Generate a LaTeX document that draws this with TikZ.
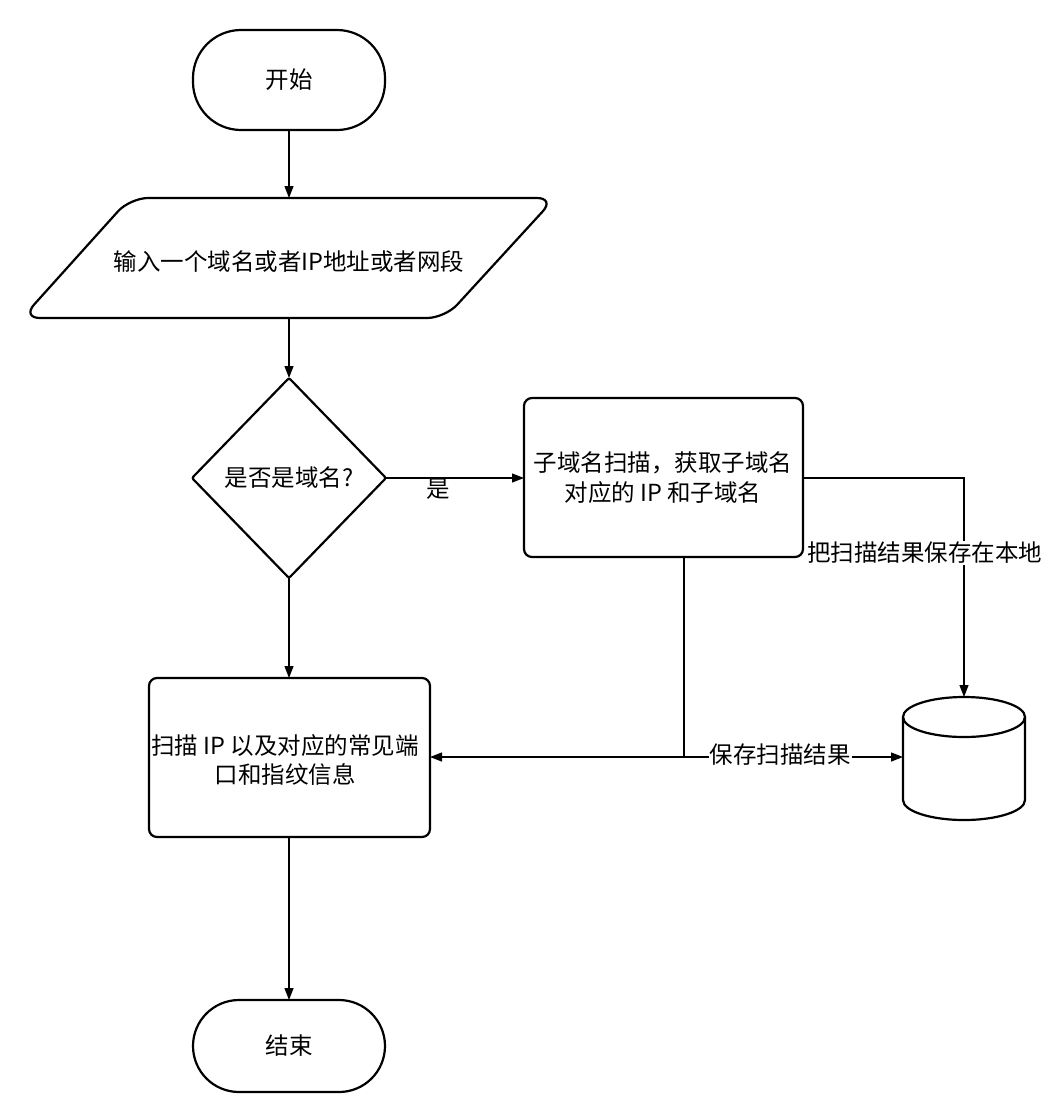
\documentclass[tikz,border=0pt]{standalone}
\usepackage{fontspec}
\setmainfont{Noto Sans CJK SC}
\usetikzlibrary{shapes.geometric,arrows.meta}
\begin{document}
\begin{tikzpicture}[x=1pt,y=-1pt,
  every node/.style={font=\fontsize{23.5}{30}\selectfont},
  box/.style={draw,line width=2.2pt,rounded corners=8pt},
  arr/.style={line width=1.3pt,-{Triangle[length=12pt,width=9pt]}},
  ln/.style={line width=1.3pt}]
\useasboundingbox (0,0) rectangle (1061,1120);
\draw[box,rounded corners=48pt] (193,30) rectangle (385,130);
\node (s) at (289,80) {开始};
\coordinate (sb) at (289,130);
\draw[box,rounded corners=18pt] (130,198) -- (555,198) -- (445,318) -- (22,318) -- cycle;
\node (p) at (289,262) {输入一个域名或者IP地址或者网段};
\coordinate (pt) at (289,198); \coordinate (pb) at (289,318);
\draw[box,rounded corners=2pt] (289,378) -- (386,478) -- (289,578) -- (192,478) -- cycle;
\node (d) at (289,478) {是否是域名?};
\coordinate (dt) at (289,378); \coordinate (db) at (289,578); \coordinate (dr) at (386,478);
\draw[box] (524,398) rectangle (803,557);
\node[align=center] (b1) at (663,478) {子域名扫描，获取子域名\\对应的 IP 和子域名};
\coordinate (b1l) at (524,478); \coordinate (b1r) at (803,478); \coordinate (b1b) at (684,557);
\draw[box] (149,678) rectangle (430,837);
\node[align=center] (b2) at (285,760) {扫描 IP 以及对应的常见端\\口和指纹信息};
\coordinate (b2t) at (289,678); \coordinate (b2r) at (430,757); \coordinate (b2b) at (289,837);
\coordinate (j) at (684,757);
\draw[line width=2.2pt] (903,717) -- (903,800) arc[start angle=180,end angle=0,x radius=61,y radius=20] -- (1025,717);
\draw[line width=2.2pt] (964,717) ellipse[x radius=61,y radius=20];
\coordinate (ct) at (964,697); \coordinate (cl) at (903,757);
\draw[box,rounded corners=46pt] (193,1000) rectangle (385,1092);
\node (e) at (289,1046) {结束};
\coordinate (et) at (289,1000);
\draw[arr] (sb) -- (pt);
\draw[arr] (pb) -- (dt);
\draw[arr] (db) -- (b2t);
\draw[arr] (dr) -- node[pos=0.38,below=-3pt] {是} (b1l);
\draw[arr] (b1r) -| (ct);
\node[fill=white,inner sep=1pt,anchor=west] at (806,553) {把扫描结果保存在本地};
\draw[ln] (b1b) -- (j);
\draw[arr] (j) -- (b2r);
\draw[arr] (j) -- (cl);
\node[fill=white,inner sep=1pt] at (780,755) {保存扫描结果};
\draw[arr] (b2b) -- (et);
\end{tikzpicture}
\end{document}
